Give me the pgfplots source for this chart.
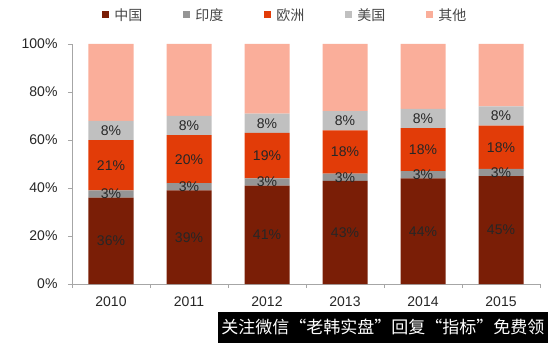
\documentclass[border=0pt]{standalone}
\usepackage{pgfplots}
\usepackage{pgfplotstable}
\pgfplotsset{compat=1.18}
\usepackage{fontspec}
\setmainfont{Liberation Sans}
\newfontfamily\cjk{Noto Sans CJK SC}
\definecolor{cChina}{HTML}{7A1E06}
\definecolor{cIndia}{HTML}{959595}
\definecolor{cEurope}{HTML}{E23C08}
\definecolor{cUS}{HTML}{C0C0C0}
\definecolor{cOther}{HTML}{FAAE9A}
\definecolor{axgray}{HTML}{A6A6A6}
\definecolor{txt}{HTML}{262626}
\pgfplotstableread{
x china india europe us other
0 36 3 21 8 32
1 39 3 20 8 30
2 41 3 19 8 29
3 43 3 18 8 28
4 44 3 18 8 27
5 45 3 18 8 26
}\data
\pgfplotsset{
  sq/.style={legend image code/.code={\fill[##1] (0pt,-3.5pt) rectangle (7pt,3.5pt);}},
  lbl/.style={
    visualization depends on={\thisrow{#1} \as \v},
    nodes near coords={\pgfmathprintnumber{\v}\%},
    every node near coord/.append style={anchor=center, text=txt, font=\fontsize{14}{16}\selectfont}
  }
}
\begin{document}
\begin{tikzpicture}
\useasboundingbox (-72pt,-59pt) rectangle (476pt,284pt);
\begin{axis}[
  scale only axis, width=468pt, height=240pt,
  ybar stacked, bar width=45pt,
  xmin=-0.5, xmax=5.5, ymin=0, ymax=100,
  axis lines*=left,
  axis line style={axgray, line width=0.8pt},
  tick style={axgray, line width=0.8pt},
  tick align=outside, major tick length=4pt,
  xtick={-0.5,0.5,...,5.5}, xticklabels={},
  extra x ticks={0,1,2,3,4,5},
  extra x tick labels={2010,2011,2012,2013,2014,2015},
  extra x tick style={major tick length=0pt},
  xticklabel style={font=\fontsize{14}{16}\selectfont, text=txt, yshift=-9pt},
  ytick={0,20,...,100},
  yticklabel={\pgfmathprintnumber{\tick}\%},
  yticklabel style={font=\fontsize{14}{16}\selectfont, text=txt, xshift=-7pt},
  /pgf/number format/assume math mode=true,
  legend columns=5,
  legend style={draw=none, fill=none, at={(0.058,1.121)}, anchor=west,
    font=\cjk\fontsize{14}{16}\selectfont, text=txt!85,
    /tikz/every odd column/.append style={column sep=3pt},
    /tikz/every even column/.append style={column sep=39pt}},
]
\addplot[fill=cChina, draw=none, sq, lbl=china] table[x=x,y=china]{\data};
\addplot[fill=cIndia, draw=none, sq, lbl=india] table[x=x,y=india]{\data};
\addplot[fill=cEurope, draw=none, sq, lbl=europe] table[x=x,y=europe]{\data};
\addplot[fill=cUS, draw=none, sq, lbl=us] table[x=x,y=us]{\data};
\addplot[fill=cOther, draw=none, sq] table[x=x,y=other]{\data};
\legend{中国,印度,欧洲,美国,其他}
\end{axis}
\node[fill=black, text=white, anchor=south east, minimum width=330pt, minimum height=31pt, inner sep=0pt, font=\cjk\fontsize{17}{20}\selectfont] at (476pt,-59pt) {关注微信“老韩实盘”回复“指标”免费领};
\end{tikzpicture}
\end{document}
